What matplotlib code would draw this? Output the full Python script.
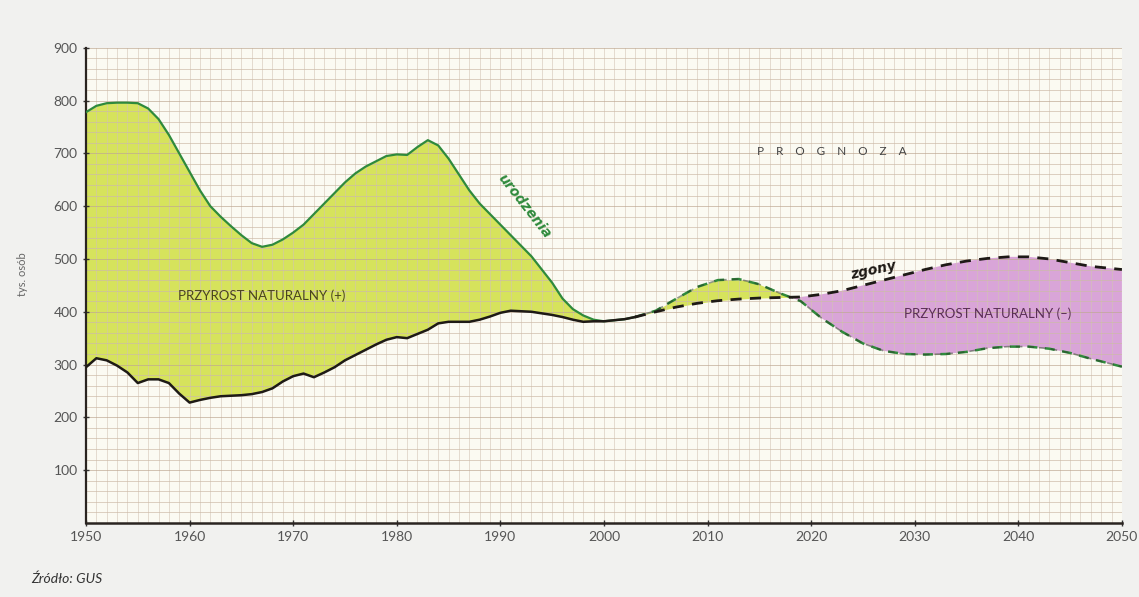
import numpy as np
import matplotlib.pyplot as plt

# historical data (thousands), GUS
hist_years = list(range(1950, 2004))
hist_births = [778, 790, 795, 796, 796, 795, 785, 765, 735, 700,
               665, 630, 600, 580, 562, 545, 530, 523, 527, 537,
               550, 565, 585, 605, 625, 645, 662, 675, 685, 695,
               698, 697, 712, 725, 715, 690, 660, 630, 605, 585,
               565, 545, 525, 505, 480, 455, 425, 405, 393, 385,
               382, 384, 386, 390]
hist_deaths = [295, 312, 308, 298, 285, 265, 272, 272, 265, 245,
               228, 233, 237, 240, 241, 242, 244, 248, 255, 268,
               278, 283, 276, 285, 295, 308, 318, 328, 338, 347,
               352, 350, 358, 366, 378, 381, 381, 381, 385, 391,
               398, 402, 401, 400, 397, 394, 390, 385, 381, 382,
               382, 384, 386, 390]

# forecast
fc_years = [2003, 2005, 2007, 2009, 2011, 2013, 2015, 2017, 2019, 2021,
            2023, 2025, 2027, 2029, 2031, 2033, 2035, 2037, 2039, 2041,
            2043, 2045, 2047, 2050]
fc_births = [390, 402, 425, 447, 460, 462, 452, 435, 420, 388,
             362, 340, 326, 320, 319, 320, 324, 331, 334, 334,
             330, 322, 311, 296]
fc_deaths = [390, 400, 409, 416, 421, 424, 426, 427, 428, 433,
             440, 450, 460, 470, 480, 489, 496, 501, 504, 504,
             500, 493, 486, 480]

x_ticks = list(range(1950, 2051, 10))
y_ticks = list(range(100, 901, 100))

GREEN_FILL = '#d6e35c'
PURPLE_FILL = '#d9a5d8'
GREEN_LINE = '#2f8a3c'

fig = plt.figure(figsize=(11.39, 5.97), dpi=100, facecolor='#f1f1ef')
ax = fig.add_axes([0.0755, 0.124, 0.9095, 0.796])
ax.set_facecolor('#fbfaf2')

hb = np.array(hist_births)
hd = np.array(hist_deaths)
fb = np.array(fc_births)
fd = np.array(fc_deaths)

ax.fill_between(hist_years, hd, hb, where=hb >= hd, color=GREEN_FILL, lw=0, zorder=1)
ax.fill_between(fc_years, fd, fb, where=fb >= fd, interpolate=True,
                color=GREEN_FILL, lw=0, zorder=1)
ax.fill_between(fc_years, fd, fb, where=fb <= fd, interpolate=True,
                color=PURPLE_FILL, lw=0, zorder=1)

# graph paper grid
for yr in range(1951, 2050):
    ax.axvline(yr, color='#d2c4b4', lw=0.5, zorder=1.5, alpha=0.8)
for v in range(20, 901, 20):
    ax.axhline(v, color='#bfa893' if v % 100 == 0 else '#cdbba8', lw=0.6, zorder=1.5, alpha=0.8)

ax.plot(hist_years, hb, color=GREEN_LINE, lw=1.6, zorder=3)
ax.plot(hist_years, hd, color='#1e1a16', lw=1.8, zorder=4)
ax.plot(fc_years, fb, color=GREEN_LINE, lw=1.8, ls=(0, (4, 3)), zorder=3)
ax.plot(fc_years, fb, color='#2a3a26', lw=1.2, ls=(0, (4, 3)), alpha=0.5, zorder=3)
ax.plot(fc_years, fd, color='#1e1a16', lw=2.0, ls=(0, (4, 3)), zorder=4)

ax.set_xlim(1950, 2050)
ax.set_ylim(0, 900)
ax.set_xticks(x_ticks)
ax.set_yticks(y_ticks)
ax.tick_params(axis='both', colors='#333333', labelcolor='#555555', labelsize=10,
               direction='inout', length=5, width=1)
for lab in ax.get_xticklabels() + ax.get_yticklabels():
    lab.set_fontfamily('Lato')
for side in ['top', 'right']:
    ax.spines[side].set_visible(False)
ax.spines['left'].set_linewidth(1.6)
ax.spines['bottom'].set_linewidth(1.8)
ax.spines['left'].set_color('#2a2420')
ax.spines['bottom'].set_color('#2a2420')

fig.text(0.02, 0.54, 'tys. osób', rotation=90, fontsize=8, color='#666666',
         family='Lato', ha='center', va='center')

ax.text(1967, 430, 'PRZYROST NATURALNY (+)', fontsize=9.5, color='#4a4420',
        family='Lato', ha='center', va='center', zorder=5)
ax.text(2037, 397, 'PRZYROST NATURALNY (–)', fontsize=9.5, color='#5a2e55',
        family='Lato', ha='center', va='center', zorder=5)
ax.text(1992.3, 600, 'urodzenia', fontsize=10, color=GREEN_LINE, fontweight='bold',
        style='italic', family='DejaVu Sans', rotation=-52, ha='center', va='center', zorder=5)
ax.text(2026, 478, 'zgony', fontsize=10, color='#1e1a16', fontweight='bold',
        style='italic', family='DejaVu Sans', rotation=12, ha='center', va='center', zorder=5)
ax.text(2014.8, 704, 'P    R    O    G    N    O    Z    A', fontsize=8.5, color='#444444',
        family='Lato', ha='left', va='center', zorder=5)

fig.text(0.027, 0.02, 'Źródło: GUS', fontsize=10, color='#333333', style='italic',
         family='Lato', ha='left', va='bottom')

fig.savefig('out.png', dpi=100, facecolor=fig.get_facecolor())
